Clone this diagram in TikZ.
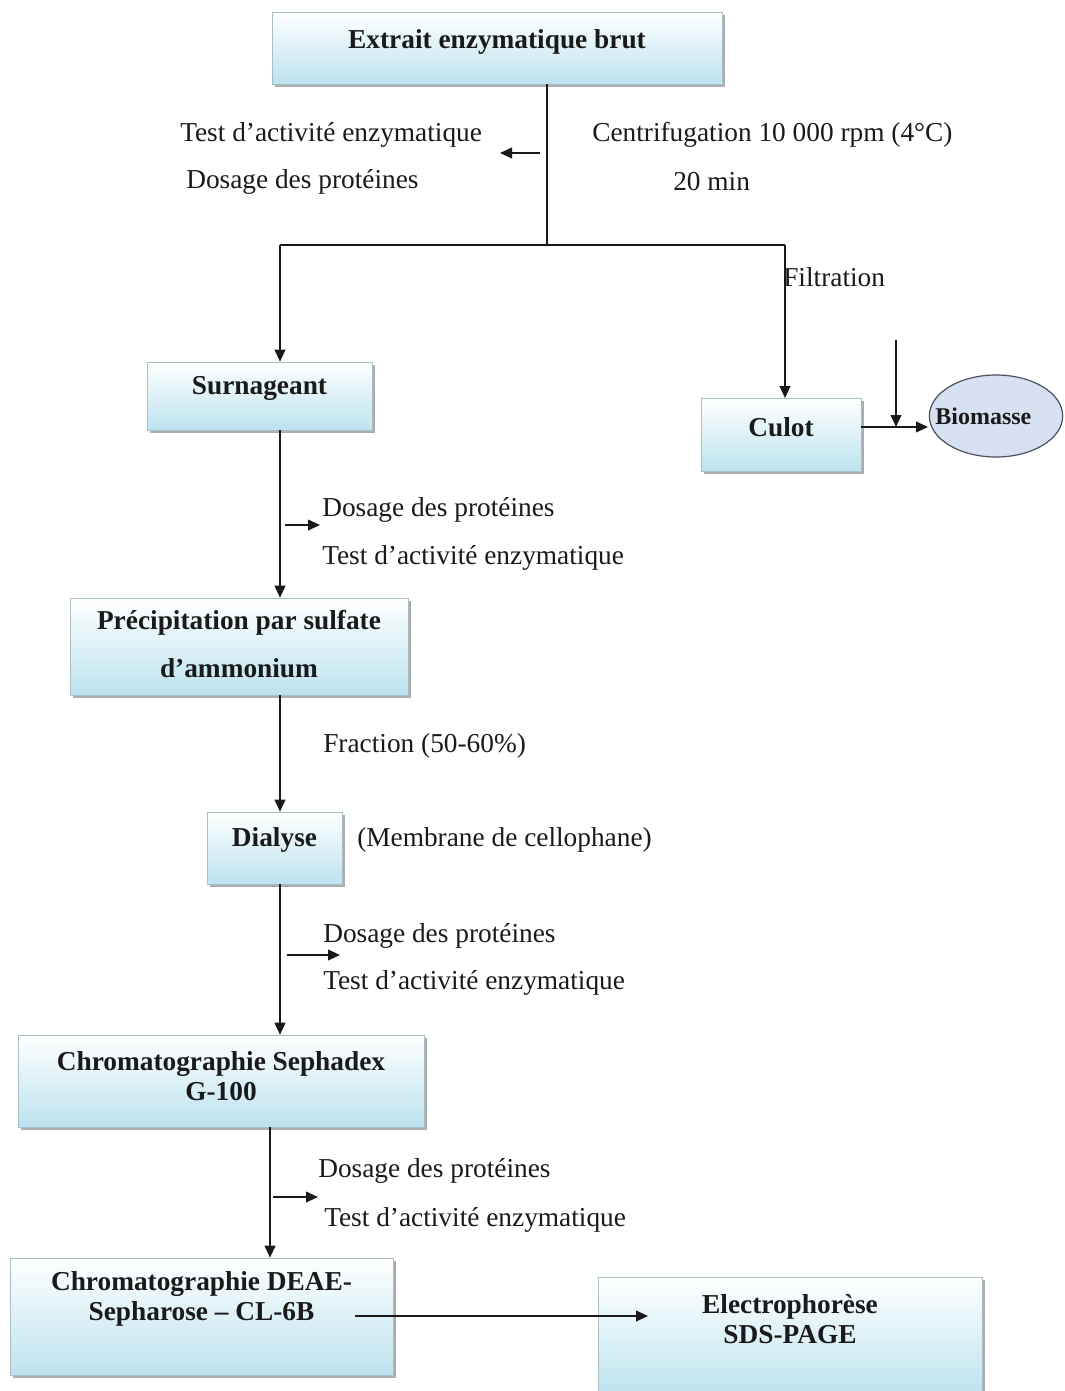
\documentclass[tikz,border=0pt]{standalone}
\usepackage{fontspec}
\setmainfont{Liberation Serif}
\usetikzlibrary{arrows.meta,positioning,shapes.geometric,shadows,calc}
\definecolor{boxblue}{HTML}{BCE3EE}
\definecolor{boxline}{HTML}{A9BEC6}
\definecolor{ovalfill}{HTML}{D8E1F2}
\definecolor{ovalline}{HTML}{4A5060}
\definecolor{ink}{HTML}{1A1A1A}

\begin{document}
\begin{tikzpicture}[x=0.75pt, y=-0.75pt,
          stepbox/.style={draw=boxline, top color=white, bottom color=boxblue, align=center, inner sep=0pt,
            font=\fontsize{20.5}{22.5}\selectfont\bfseries, text=ink,
            drop shadow={shadow xshift=2pt, shadow yshift=-2pt, fill=gray!65, opacity=1}},
          oval/.style={ellipse, draw=ovalline, line width=0.9pt, fill=ovalfill, inner sep=0pt,
            font=\fontsize{18}{20}\selectfont\bfseries, text=ink},
          lbl/.style={anchor=west, inner sep=0pt, font=\fontsize{20.5}{22}\selectfont, text=ink},
          ln/.style={line width=1.4pt, color=ink},
          arr/.style={-{Triangle[length=9pt, width=8pt]}, line width=1.4pt, color=ink}]
        \useasboundingbox (0,0) rectangle (1064,1391);
        \fill[white] (0,0) rectangle (1064,1391);
        % boxes
        \node[stepbox, minimum width=337.5pt, minimum height=54pt, text depth=14pt] (extrait) at (497,48) {Extrait enzymatique brut};
        \node[stepbox, minimum width=168.75pt, minimum height=51pt, text depth=16pt] (surnageant) at (259.5,396) {Surnageant};
        \node[stepbox, minimum width=120pt, minimum height=55pt, text depth=12pt] (culot) at (781,435) {Culot};
        \node[oval, minimum width=100pt, minimum height=61.5pt] (biomasse) at (996,416) {\makebox[0pt]{Biomasse\hspace{19pt}}};
        \node[stepbox, minimum width=253.5pt, minimum height=72.75pt, text depth=4pt] (precip) at (239,646.5) {Précipitation par sulfate\\[13pt]d'ammonium};
        \node[stepbox, minimum width=101.25pt, minimum height=54pt, text depth=16pt] (dialyse) at (274.5,848) {Dialyse};
        \node[stepbox, minimum width=304.5pt, minimum height=69pt, text depth=8pt] (sephadex) at (221,1081) {Chromatographie Sephadex\\G-100};
        \node[stepbox, minimum width=287.25pt, minimum height=87.75pt, text depth=31pt] (deae) at (201.5,1316.5) {Chromatographie DEAE-\\Sepharose -- CL-6B};
        \node[stepbox, minimum width=288pt, minimum height=88.5pt, text depth=26pt] (electro) at (790,1336) {Electrophorèse\\SDS-PAGE};
        % labels
        \node[lbl] (test0) at (180,135) {Test d'activité enzymatique};
        \node[lbl] (dosage0) at (186,182) {Dosage des protéines};
        \node[lbl] (centri) at (592,135) {Centrifugation 10 000 rpm (4°C)};
        \node[lbl] (duree) at (673,182) {20 min};
        \node[lbl] (filtr) at (783,277) {Filtration};
        \node[lbl] (dosage1) at (322,510) {Dosage des protéines};
        \node[lbl] (test1) at (322,558) {Test d'activité enzymatique};
        \node[lbl] (fraction) at (323,746) {Fraction (50-60\%)};
        \node[lbl] (membrane) at (357,840) {(Membrane de cellophane)};
        \node[lbl] (dosage2) at (323,936) {Dosage des protéines};
        \node[lbl] (test2) at (323,983) {Test d'activité enzymatique};
        \node[lbl] (dosage3) at (318,1171) {Dosage des protéines};
        \node[lbl] (test3) at (324,1220) {Test d'activité enzymatique};
        % junctions
        \coordinate (split) at (547,245);
        \coordinate (splitL) at (280,245);
        \coordinate (splitR) at (785,245);
        \coordinate (spine) at (270,1127);
        \coordinate (bioTop) at (896,340);
        \coordinate (cb) at (928,427);
        \coordinate (eA) at (355,1316);
        \coordinate (eB) at (648,1316);
        % connectors
        \draw[ln] (split |- extrait.south) -- (split);
        \draw[arr] (540,153) coordinate (s0) -- (500,153) coordinate (e0);
        \draw[ln] (splitL) -- (splitR);
        \draw[arr] (splitL) -- (splitL |- surnageant.north);
        \draw[arr] (splitR) -- (splitR |- culot.north);
        \draw[arr] (culot.east |- cb) -- (cb);
        \draw[arr] (bioTop) -- (bioTop |- cb);
        \draw[arr] (surnageant.south -| splitL) -- (precip.north -| splitL);
        \draw[arr] (285,525) coordinate (s1) -- (320,525) coordinate (e1);
        \draw[arr] (precip.south -| splitL) -- (dialyse.north -| splitL);
        \draw[arr] (dialyse.south -| splitL) -- (sephadex.north -| splitL);
        \draw[arr] (287,955) coordinate (s2) -- (340,955) coordinate (e2);
        \draw[arr] (spine) -- (deae.north -| spine);
        \draw[arr] (273,1197) coordinate (s3) -- (318,1197) coordinate (e3);
        \draw[arr] (eA) -- (eB);
      \end{tikzpicture}
\end{document}
